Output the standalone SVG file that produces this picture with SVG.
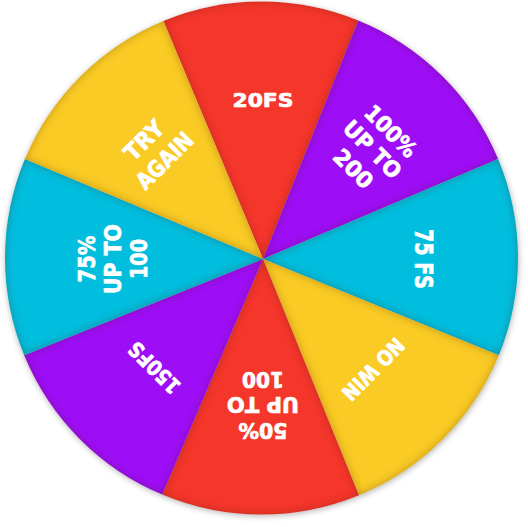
<svg xmlns="http://www.w3.org/2000/svg" width="528" height="527" viewBox="0 0 528 527">
  <defs>
    <filter id="drop" x="-10%" y="-10%" width="120%" height="120%">
      <feGaussianBlur stdDeviation="3"/>
    </filter>
    <filter id="inset" x="-5%" y="-5%" width="110%" height="110%" color-interpolation-filters="sRGB">
      <feGaussianBlur in="SourceAlpha" stdDeviation="4" result="b"/>
      <feComposite in="SourceAlpha" in2="b" operator="arithmetic" k2="1" k3="-1" result="edge"/>
      <feFlood flood-color="#4a1500" flood-opacity="0.3" result="c"/>
      <feComposite in="c" in2="edge" operator="in" result="sh"/>
      <feMerge><feMergeNode in="SourceGraphic"/><feMergeNode in="sh"/></feMerge>
    </filter>
    <style>
      .red{fill:#F5362B}
      .purple{fill:#9D0EF6}
      .cyan{fill:#02BEDE}
      .yellow{fill:#F9CB24}
      .seg{filter:url(#inset)}
      text{font-family:"DejaVu Sans","Liberation Sans",sans-serif;font-weight:bold;fill:#FFFFFF;stroke:#FFFFFF;stroke-width:0.7;stroke-linejoin:round;text-anchor:middle}
    </style>
  </defs>
  <rect width="528" height="527" fill="#FFFFFF"/>
  <circle cx="262" cy="259.5" r="256.5" fill="#000000" opacity="0.3" filter="url(#drop)"/>

  <g id="seg-20fs">
    <path class="seg red" d="M263 259 L163.4 21 A256.5 256.5 0 0 1 358.2 20.45 Z"/>
    <text x="263" y="107" font-size="19.5" textLength="61" lengthAdjust="spacingAndGlyphs">20FS</text>
  </g>
  <g id="seg-100-up-to-200">
    <path class="seg purple" d="M263 259 L358.2 20.45 A256.5 256.5 0 0 1 498.1 158.9 Z"/>
    <g transform="rotate(45 263 259)">
      <text x="263" y="86" font-size="22" textLength="64" lengthAdjust="spacingAndGlyphs">100%</text>
      <text x="263" y="112" font-size="22" textLength="72" lengthAdjust="spacingAndGlyphs">UP TO</text>
      <text x="263" y="139" font-size="22" textLength="46" lengthAdjust="spacingAndGlyphs">200</text>
    </g>
  </g>
  <g id="seg-75fs">
    <path class="seg cyan" d="M263 259 L498.1 158.9 A256.5 256.5 0 0 1 498.8 355.3 Z"/>
    <text transform="rotate(90 263 259)" x="263" y="106.7" font-size="24" textLength="60" lengthAdjust="spacingAndGlyphs">75 FS</text>
  </g>
  <g id="seg-no-win">
    <path class="seg yellow" d="M263 259 L498.8 355.3 A256.5 256.5 0 0 1 358.9 495.3 Z"/>
    <text transform="rotate(135 263 259)" x="263" y="110.6" font-size="21" textLength="78" lengthAdjust="spacingAndGlyphs">NO WIN</text>
  </g>
  <g id="seg-50-up-to-100">
    <path class="seg red" d="M263 259 L358.9 495.3 A256.5 256.5 0 0 1 162.3 494.6 Z"/>
    <g transform="rotate(180 263 259)">
      <text x="263" y="95.2" font-size="21" textLength="49" lengthAdjust="spacingAndGlyphs">50%</text>
      <text x="263" y="120.7" font-size="21" textLength="72" lengthAdjust="spacingAndGlyphs">UP TO</text>
      <text x="263" y="146.2" font-size="21" textLength="42" lengthAdjust="spacingAndGlyphs">100</text>
    </g>
  </g>
  <g id="seg-150fs">
    <path class="seg purple" d="M263 259 L162.3 494.6 A256.5 256.5 0 0 1 24.2 355.3 Z"/>
    <text transform="rotate(225 263 259)" x="263" y="112.7" font-size="21" textLength="64" lengthAdjust="spacingAndGlyphs">150FS</text>
  </g>
  <g id="seg-75-up-to-100">
    <path class="seg cyan" d="M263 259 L24.2 355.3 A256.5 256.5 0 0 1 24.9 158.95 Z"/>
    <g transform="rotate(270 263 259)">
      <text x="263" y="91" font-size="23" textLength="47" lengthAdjust="spacingAndGlyphs">75%</text>
      <text x="263" y="117" font-size="23" textLength="70" lengthAdjust="spacingAndGlyphs">UP TO</text>
      <text x="263" y="143" font-size="23" textLength="40" lengthAdjust="spacingAndGlyphs">100</text>
    </g>
  </g>
  <g id="seg-try-again">
    <path class="seg yellow" d="M263 259 L24.9 158.95 A256.5 256.5 0 0 1 163.4 21 Z"/>
    <g transform="rotate(315 263 259)">
      <text x="263" y="99" font-size="23" textLength="46" lengthAdjust="spacingAndGlyphs">TRY</text>
      <text x="263" y="128" font-size="23" textLength="70" lengthAdjust="spacingAndGlyphs">AGAIN</text>
    </g>
  </g>
</svg>
